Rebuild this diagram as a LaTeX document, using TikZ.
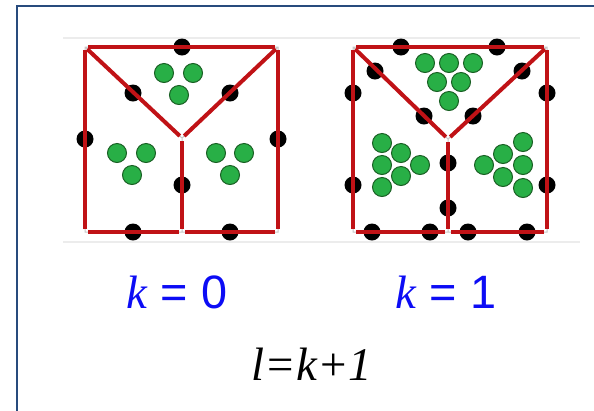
\documentclass[tikz,border=0pt]{standalone}
\usepackage{fontspec}
\setmainfont{Liberation Sans}
\newfontfamily\serifit{Liberation Serif}
\definecolor{frameblue}{RGB}{40,75,125}
\definecolor{redl}{RGB}{192,18,22}
\definecolor{gfill}{RGB}{40,175,70}
\definecolor{gedge}{RGB}{25,95,35}
\definecolor{labblue}{RGB}{12,12,245}
\begin{document}
\begin{tikzpicture}[x=1bp,y=-1bp,
 redline/.style={draw=redl, line width=4bp, shorten <=3bp, shorten >=3bp},
 joint/.style={draw=gray!45, line width=1bp},
 guide/.style={draw=gray!15, line width=1.5bp},
 bdot/.style={circle, fill=black, inner sep=0pt, minimum size=17bp},
 gdot/.style={circle, fill=gfill, draw=gedge, line width=1bp, inner sep=0pt, minimum size=19bp},
 lab/.style={text=labblue, font=\fontsize{47}{50}\selectfont, anchor=base},
 formula/.style={text=black, font=\fontsize{47}{50}\selectfont\serifit\itshape, anchor=base},
]
\useasboundingbox (0,0) rectangle (594,410);
% frame
\draw[frameblue, line width=2bp] (17,414) -- (17,6) -- (598,6);
% guide lines
\coordinate (g1a) at (63,38); \coordinate (g1b) at (580,38);
\coordinate (g2a) at (63,242); \coordinate (g2b) at (580,242);
\draw[guide] (g1a) -- (g1b);
\draw[guide] (g2a) -- (g2b);

% ---------- left square (k=0) ----------
\coordinate (LA) at (85,47);  \coordinate (LB) at (278,47);
\coordinate (LC) at (278,232); \coordinate (LD) at (85,232);
\coordinate (LO) at (182,138); \coordinate (LM) at (182,232);
\draw[joint] (LA) -- (LB) -- (LC) -- (LD) -- cycle (LA) -- (LO) -- (LB) (LO) -- (LM);
\foreach \n/\p in {l1/{(182,47)}, l2/{(133,93)}, l3/{(230,93)}, l4/{(85,139)}, l5/{(278,139)},
                   l6/{(182,185)}, l7/{(133,232)}, l8/{(230,232)}}
  \node[bdot] (\n) at \p {};
\foreach \a/\b in {LA/LB, LB/LC, LC/LM, LM/LD, LD/LA, LA/LO, LB/LO, LO/LM}
  \draw[redline] (\a) -- (\b);
\foreach \n/\p in {lg1/{(164,73)}, lg2/{(193,73)}, lg3/{(179,95)},
                   lg4/{(117,153)}, lg5/{(146,153)}, lg6/{(132,175)},
                   lg7/{(216,153)}, lg8/{(244,153)}, lg9/{(230,175)}}
  \node[gdot] (\n) at \p {};

% ---------- right square (k=1) ----------
\coordinate (RA) at (353,47);  \coordinate (RB) at (547,47);
\coordinate (RC) at (547,232); \coordinate (RD) at (353,232);
\coordinate (RO) at (448,139); \coordinate (RM) at (448,232);
\draw[joint] (RA) -- (RB) -- (RC) -- (RD) -- cycle (RA) -- (RO) -- (RB) (RO) -- (RM);
\foreach \n/\p in {r1/{(401,47)}, r2/{(497,47)}, r3/{(375,71)}, r4/{(424,116)},
                   r5/{(522,71)}, r6/{(473,116)}, r7/{(353,93)}, r8/{(353,185)},
                   r9/{(547,93)}, r10/{(547,185)}, r11/{(448,163)}, r12/{(448,208)},
                   r13/{(372,232)}, r14/{(430,232)}, r15/{(468,232)}, r16/{(527,232)}}
  \node[bdot] (\n) at \p {};
\foreach \a/\b in {RA/RB, RB/RC, RC/RM, RM/RD, RD/RA, RA/RO, RB/RO, RO/RM}
  \draw[redline] (\a) -- (\b);
\foreach \n/\p in {rg1/{(425,63)}, rg2/{(449,63)}, rg3/{(473,63)},
                   rg4/{(437,82)}, rg5/{(461,82)}, rg6/{(449,101)},
                   rg7/{(382,143)}, rg8/{(382,165)}, rg9/{(382,187)},
                   rg10/{(401,153)}, rg11/{(401,176)}, rg12/{(420,165)},
                   rg13/{(484,165)}, rg14/{(503,154)}, rg15/{(503,177)},
                   rg16/{(523,142)}, rg17/{(523,165)}, rg18/{(523,188)}}
  \node[gdot] (\n) at \p {};

% ---------- labels ----------
\node[lab] (k0) at (177,308) {{\serifit\itshape k} = 0};
\node[lab] (k1) at (446,308) {{\serifit\itshape k} = 1};
\node[formula] (lk) at (312,380) {l=k+1};
\end{tikzpicture}
\end{document}
